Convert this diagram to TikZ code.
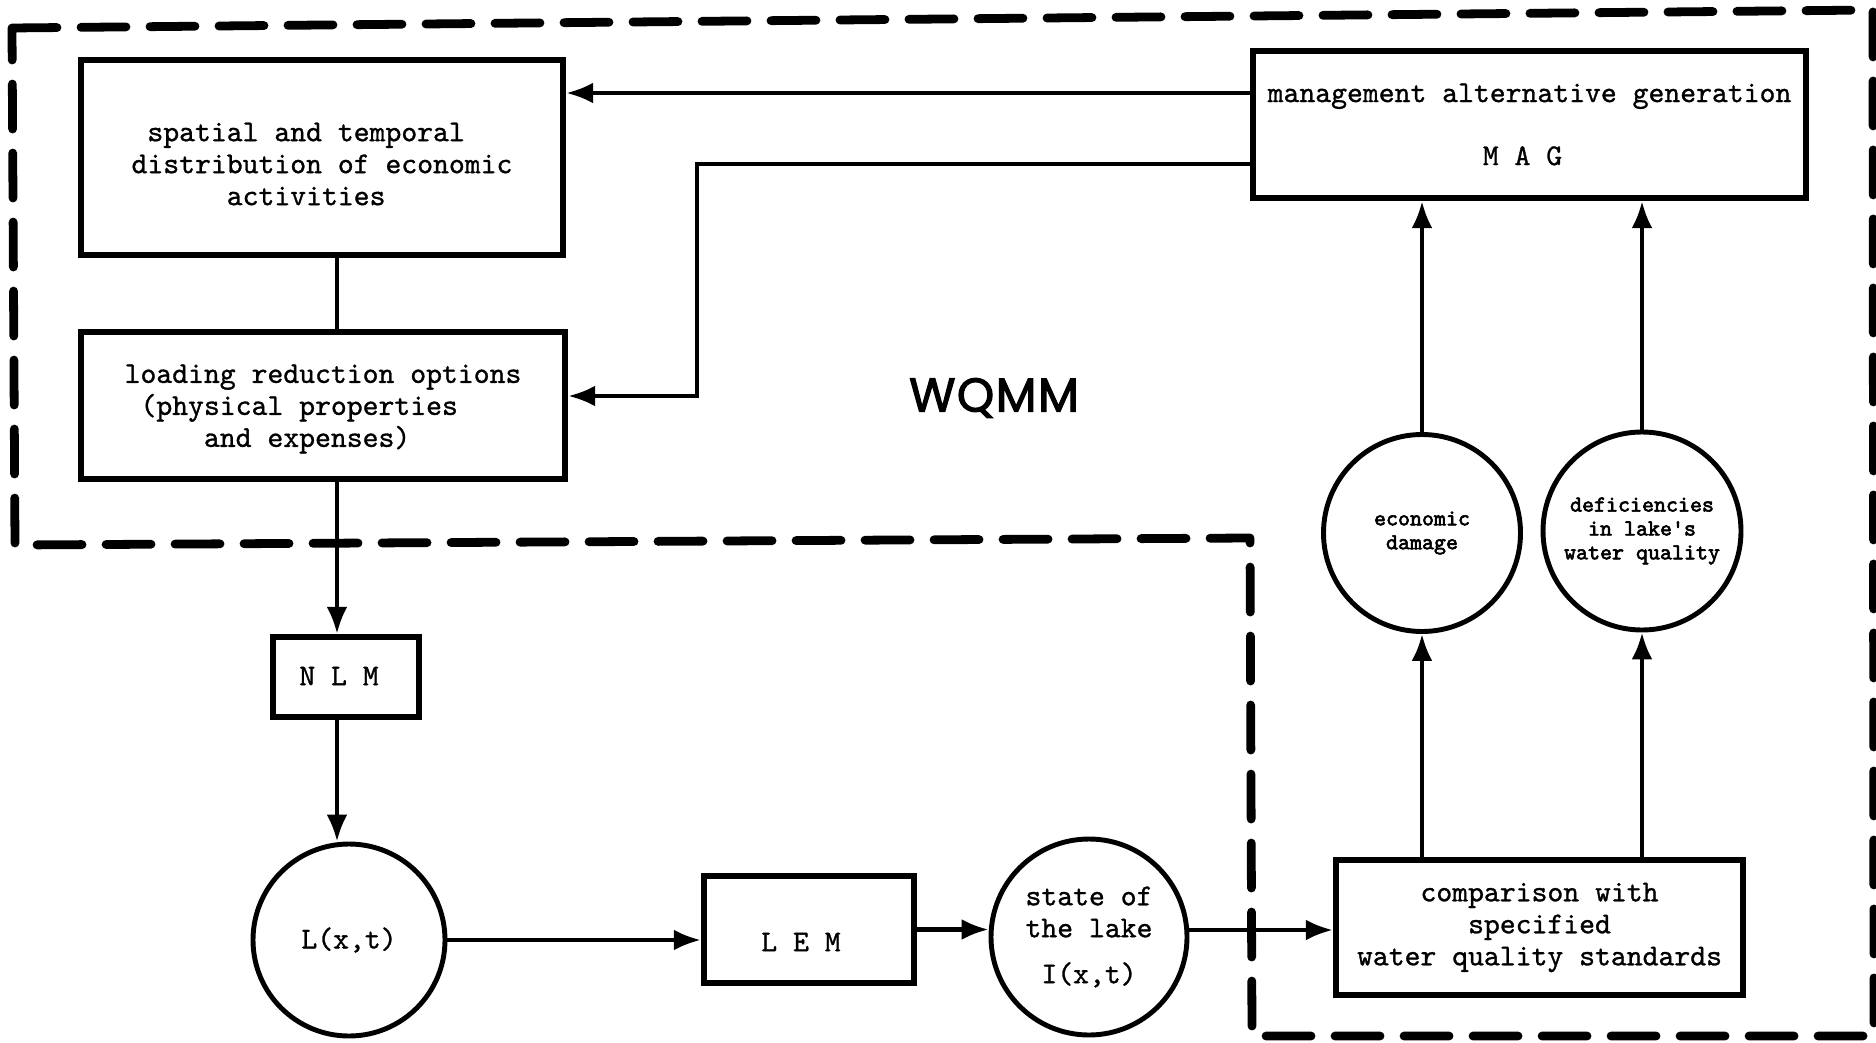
\documentclass[tikz,border=0pt]{standalone}
\usepackage{fontspec}
\usetikzlibrary{arrows.meta}
% typewriter faces
\newfontfamily\tw{lmmono10-regular.otf}[FakeBold=1.0]
\newfontfamily\twb{lmmono10-regular.otf}[FakeBold=2.6]
\newfontfamily\wq{Poppins}[FakeBold=2.4,LetterSpace=3]
\begin{document}
\begin{tikzpicture}[x=0.2mm,y=-0.2mm,
  typed/.style={font=\tw\fontsize{17.2}{18.2}\selectfont, inner sep=0pt, align=left},
  box/.style={draw, rectangle, line width=3.6pt, inner sep=0pt, typed},
  disc/.style={draw, circle, line width=2.8pt, inner sep=0pt, align=center,
    font=\tw\fontsize{17.2}{18.2}\selectfont},
  smalldisc/.style={disc, font=\twb\fontsize{13}{13.6}\selectfont},
  link/.style={line width=2.4pt},
  flow/.style={line width=2.4pt, -{Latex[length=5.4mm,width=4.2mm]}},
  frame/.style={line width=5pt, line cap=round, line join=round,
    dash pattern=on 9mm off 4.8mm}]
\fill[white] (0,0) rectangle (1876,1042);
\useasboundingbox (0,0) rectangle (1876,1042);

% model boundary
\draw[frame] (12,28) -- (1873,10) -- (1874,1036) -- (1252,1036) -- (1250,538) -- (15,545) -- cycle;

% boxes
\node[box, minimum width=96.4mm, minimum height=39mm] (eco) at (322,157.5) {};
\node[typed] (ecotext) at (322,164)
  {\hphantom{x}spatial and temporal\\distribution of economic\\\hphantom{xxxxxx}activities};
\node[box, minimum width=96.8mm, minimum height=29.4mm] (opt) at (323,405.5) {};
\node[typed] (opttext) at (323,409)
  {loading reduction options\\\hphantom{x}(physical properties\\\hphantom{xxxxx}and expenses)};
\node[box, minimum width=110.6mm, minimum height=29.4mm] (mag) at (1529.5,124.5)
  {management alternative generation\\[6.2mm]\hphantom{xxxxxxxxxxxxxx}\hspace*{-1.4mm}M A G};
\node[box, minimum width=29.2mm, minimum height=16mm] (nlm) at (346,677) {};
\node[typed] (nlmtext) at (339,676) {N L M};
\node[box, minimum width=42mm, minimum height=21.4mm] (lem) at (809,929.5) {};
\node[typed] (lemtext) at (801,942) {L E M};
\node[box, minimum width=81.4mm, minimum height=27mm] (cmp) at (1539.5,927.5)
  {\hphantom{xxxx}comparison with\\\hphantom{xxxxxxx}specified\\water quality standards};

% circles
\node[disc, minimum size=38.4mm] (load) at (349,940) {L(x,t)};
\node[disc, minimum size=39.2mm, align=left] (lake) at (1089,937)
  {state of\\the lake\\[2.8mm]\hphantom{x}I(x,t)};
\node[smalldisc, minimum size=39.4mm] (dmg) at (1422,533) {economic\\damage};
\node[smalldisc, minimum size=39.6mm] (def) at (1642,531)
  {deficiencies\\in lake's\\water quality};

% title
\node[font=\wq\fontsize{27}{27}\selectfont] (title) at (994,398) {WQMM};

% connectors
\coordinate (ya) at (0,93);
\coordinate (yb) at (0,164);
\coordinate (bend) at (697,396);
\coordinate (xv) at (337,0);
\coordinate (ys) at (0,930);
\draw[flow] (mag.west |- ya) -- (eco.east |- ya);
\draw[flow] (mag.west |- yb) -| (bend) -- (opt.east |- bend);
\draw[link] (eco.south -| xv) -- (opt.north -| xv);
\draw[flow] (opt.south -| xv) -- (nlm.north -| xv);
\draw[flow] (nlm.south -| xv) -- (load.north -| xv);
\draw[flow] (load.east) -- (lem.west |- load.east);
\draw[flow] (lem.east) -- (lake.west |- lem.east);
\draw[flow] (lake.east |- ys) -- (cmp.west |- ys);
\draw[flow] (cmp.north -| dmg.south) -- (dmg.south);
\draw[flow] (cmp.north -| def.south) -- (def.south);
\draw[flow] (dmg.north) -- (mag.south -| dmg.north);
\draw[flow] (def.north) -- (mag.south -| def.north);
\end{tikzpicture}
\end{document}
